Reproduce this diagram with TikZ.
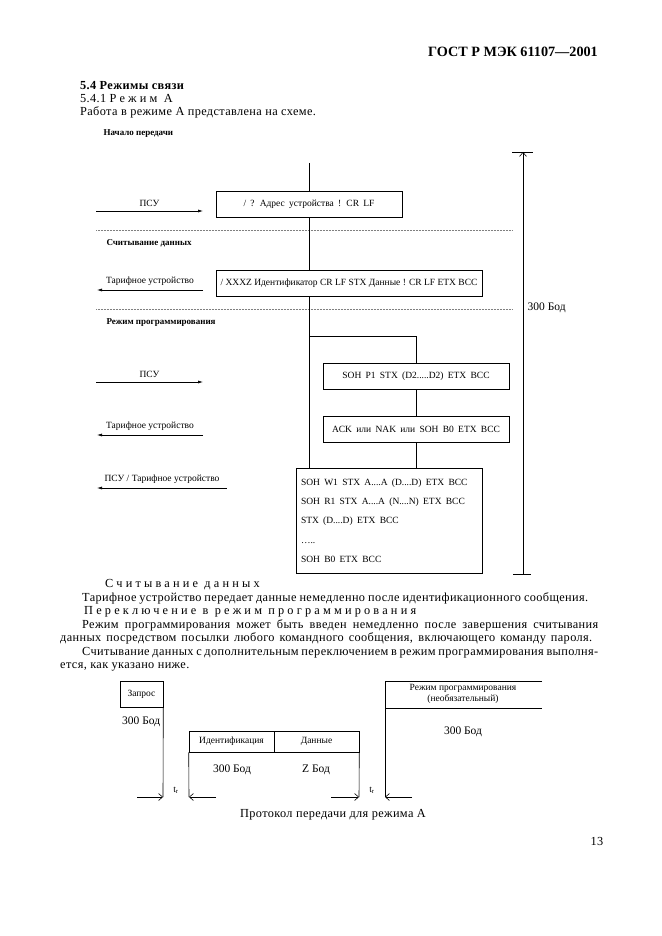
\documentclass[tikz,border=0pt]{standalone}
\usepackage{fontspec}
\setmainfont{Liberation Serif}
\usetikzlibrary{arrows.meta}
\tikzset{>=latex}
\newcommand{\txt}{\fontsize{12.3}{13.5}\selectfont\addfontfeature{LetterSpace=3}}
\newcommand{\dg}{\fontsize{9.5}{11}\selectfont}
\newcommand{\dgb}{\fontsize{9}{10}\selectfont\bfseries}
\newcommand{\lo}{\fontsize{9.5}{10.5}\selectfont}
\newcommand{\bd}{\fontsize{11.5}{12}\selectfont}
\newcommand{\wide}{\spaceskip=.45em plus .1em\relax}
\newcommand{\spaced}[1]{{\addfontfeature{LetterSpace=26}#1}}
\tikzset{
  frame/.style={draw, line width=.6pt, inner sep=0pt, font={\dg\wide}},
  flow/.style={line width=.6pt},
  sep/.style={gray, densely dotted, line width=.5pt},
  sect/.style={anchor=west, font=\dgb},
  msg/.style={line width=.6pt, -{Latex[length=5pt,width=3pt]}},
  gap/.style={line width=.6pt, -{Straight Barb[length=4pt,width=7pt]}},
  line/.style={anchor=base west, font=\txt, inner sep=0pt}
}

\begin{document}
\begin{tikzpicture}[x=1pt, y=-1pt]
    \useasboundingbox (0, 0) rectangle (661, 936);
    % page text above
    \node[anchor=base east, inner sep=0pt, font=\fontsize{14.2}{16}\selectfont\bfseries] (head) at (598, 57) {ГОСТ Р МЭК 61107—2001};
    \node[line, font=\txt\bfseries] (t1) at (80, 90) {5.4 Режимы связи};
    \node[line] (t2) at (80, 103) {5.4.1 \spaced{Режим А}};
    \node[line] (t3) at (80, 116) {Работа в режиме А представлена на схеме.};
    \node[sect] (start) at (100, 134) {Начало передачи};
    \node[sect] (read) at (103, 243) {Считывание данных};
    \node[sect] (prog) at (103, 323) {Режим программирования};
    \draw[sep](96, 230)--(513, 230);
    \draw[sep](96, 309)--(513, 309);
    % messages
    \coordinate (top) at (309, 163);
    \node[frame, minimum width=186pt, minimum height=26pt] (req) at (309, 204) {/ ? Адрес устройства ! CR LF};
    \node[frame, minimum width=266pt, minimum height=26pt, font=\dg] (ans) at (349, 283) {/ XXXZ Идентификатор CR LF STX Данные ! CR LF ETX BCC};
    \node[frame, minimum width=186pt, minimum height=26pt] (pw) at (416, 376) {SOH P1 STX (D2.....D2) ETX BCC};
    \node[frame, minimum width=186pt, minimum height=26pt] (ack) at (416, 429) {ACK или NAK или SOH B0 ETX BCC};
    \node[frame, minimum width=186pt, minimum height=105pt, align=left, text width=176pt, font=\fontsize{9.5}{19.3}\selectfont] (cmd) at (389, 520.5)
        {\wide SOH W1 STX A....A (D....D) ETX BCC\\\wide SOH R1 STX A....A (N....N) ETX BCC\\\wide STX (D....D) ETX BCC\\…..\\\wide SOH B0 ETX BCC};
    \coordinate (bend) at (309, 336);
    \draw[flow](top)--(req);
    \draw[flow](req)--(req|-ans.north);
    \draw[flow](req|-ans.south)--(req|-cmd.north);
    \draw[flow](bend)-|(pw);
    \draw[flow](pw)--(ack);
    \draw[flow](ack)--(ack|-cmd.north);
    % directions
    \draw[msg](96, 211)--node[above=1pt, font=\dg]{ПСУ}(203, 211);
    \draw[msg](203, 290)--node[above=1pt, font=\dg]{Тарифное устройство}(97, 290);
    \draw[msg](96, 382)--node[above=1pt, font=\dg]{ПСУ}(203, 382);
    \draw[msg](203, 435)--node[above=1pt, font=\dg]{Тарифное устройство}(97, 435);
    \draw[msg, {Latex[length=5pt,width=3pt]}-](97, 488)--node[above=1pt, font=\dg]{ПСУ / Тарифное устройство}(227, 488);
    % baud rate
    \coordinate (bt) at (523, 152);
    \coordinate (bb) at (523, 574);
    \draw[gap, {Straight Barb[length=4pt,width=7pt]}-](bt)--node[right=1pt, pos=.368, font=\bd]{300 Бод}(bb);
    \draw[flow]([xshift=-11pt]bt)--([xshift=10pt]bt);
    \draw[flow]([xshift=-10pt]bb)--([xshift=8pt]bb);
    % page text below
    \node[line] (p1) at (105, 587) {\spaced{Считывание данных}};
    \node[line] (p2) at (82, 601) {\makebox[506pt][s]{Тарифное устройство передает данные немедленно после идентификационного сообщения.}};
    \node[line] (p3) at (84, 614) {\spaced{Переключение в режим программирования}};
    \node[line] (p4) at (82, 628) {\makebox[516pt][s]{Режим программирования может быть введен немедленно после завершения считывания}};
    \node[line] (p5) at (60, 641) {\makebox[532pt][s]{данных посредством посылки любого командного сообщения, включающего команду пароля.}};
    \node[line] (p6) at (82, 655) {\makebox[516pt][s]{Считывание данных с дополнительным переключением в режим программирования выполня-}};
    \node[line] (p7) at (60, 668) {ется, как указано ниже.};
    % protocol
    \node[frame, font=\lo, minimum width=43pt, minimum height=26pt] (rq) at (141.5, 694) {Запрос};
    \node[frame, font=\lo, minimum width=85pt, minimum height=21pt] (id) at (231.5, 741.5) {Идентификация};
    \node[frame, font=\lo, minimum width=85pt, minimum height=21pt] (dt) at (316.5, 741.5) {Данные};
    \node[anchor=west, font=\bd, inner sep=0pt] (b1) at (122, 722) {300 Бод};
    \node[font=\bd, inner sep=0pt] (b2) at (232, 770) {300 Бод};
    \node[font=\bd, inner sep=0pt] (b3) at (316, 770) {Z Бод};
    \coordinate (rqb) at (163, 797);
    \coordinate (idb) at (189, 797);
    \coordinate (dtb) at (359, 797);
    \coordinate (pgt) at (385, 681);
    \coordinate (pgb) at (385, 797);
    \draw[flow](rq.south east)--(rqb);
    \draw[flow](id.south west)--(idb);
    \draw[flow](dt.south east)--(dtb);
    \draw[flow](542, 681)--(pgt)--(pgb);
    \draw[flow](385, 708)--(542, 708);
    \node[font=\lo, align=center, inner sep=0pt] (pm) at (463, 694) {Режим программирования\\(необязательный)};
    \node[font=\bd, inner sep=0pt] (b4) at (463, 732) {300 Бод};
    \draw[gap]([xshift=-26pt]rqb)--(rqb);
    \draw[gap]([xshift=27pt]idb)--(idb);
    \draw[gap]([xshift=-28pt]dtb)--(dtb);
    \draw[gap]([xshift=27pt]pgb)--(pgb);
    \node[font=\lo, inner sep=0pt] (g1) at (176, 790) {t\textsubscript{r}};
    \node[font=\lo, inner sep=0pt] (g2) at (372, 790) {t\textsubscript{r}};
    \node[font=\txt, inner sep=0pt] (cap) at (333, 815) {Протокол передачи для режима А};
    \node[font=\txt, inner sep=0pt] (pg) at (597, 841) {13};
\end{tikzpicture}
\end{document}
